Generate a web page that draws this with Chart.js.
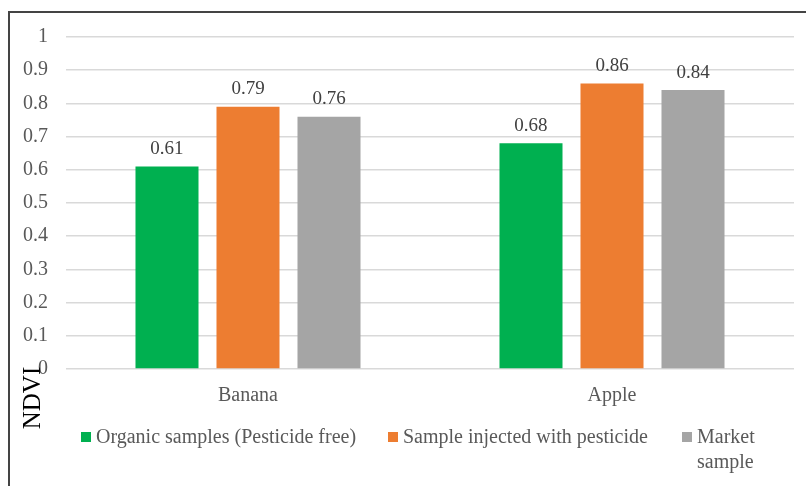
<!DOCTYPE html>
<html>
<head>
<meta charset="utf-8">
<script src="https://cdn.jsdelivr.net/npm/chart.js@4"></script>
<style>
  html, body { margin: 0; padding: 0; background: #fff; }
  #wrap { width: 806px; height: 486px; position: relative; }
</style>
</head>
<body>
<div id="wrap"><canvas id="ndvi-chart" width="806" height="486"></canvas></div>
<script>
const categories = ["Banana", "Apple"];
const seriesNames = [["Organic samples (Pesticide free)"], ["Sample injected with pesticide"], ["Market", "sample"]];
const organicValues = [0.61, 0.68];
const pesticideValues = [0.79, 0.86];
const marketValues = [0.76, 0.84];
const yTicks = [0, 0.1, 0.2, 0.3, 0.4, 0.5, 0.6, 0.7, 0.8, 0.9, 1];
const colors = ["#00B050", "#ED7D31", "#A5A5A5"];

const FONT = "'Liberation Serif', 'Times New Roman', serif";

// frame, value labels, legend and the NDVI title
const extras = {
  id: "extras",
  beforeDraw(chart) {
    const ctx = chart.ctx;
    ctx.save();
    ctx.fillStyle = "#fff";
    ctx.fillRect(0, 0, chart.width, chart.height);
    ctx.strokeStyle = "#444";
    ctx.lineWidth = 2;
    ctx.beginPath();
    ctx.moveTo(9, chart.height + 5);
    ctx.lineTo(9, 12);
    ctx.lineTo(chart.width + 5, 12);
    ctx.stroke();
    ctx.restore();
  },
  afterDatasetsDraw(chart) {
    const ctx = chart.ctx;
    ctx.save();
    ctx.font = "19px " + FONT;
    ctx.fillStyle = "#404040";
    ctx.textAlign = "center";
    ctx.textBaseline = "bottom";
    chart.data.datasets.forEach((ds, i) => {
      chart.getDatasetMeta(i).data.forEach((bar, j) => {
        ctx.fillText(ds.data[j].toFixed(2), bar.x, bar.y - 8);
      });
    });

    // legend
    const starts = [81, 388, 682];
    ctx.font = "20px " + FONT;
    ctx.textAlign = "left";
    ctx.textBaseline = "middle";
    chart.data.datasets.forEach((ds, i) => {
      const x = starts[i];
      ctx.fillStyle = colors[i];
      ctx.fillRect(x, 432, 10, 10);
      ctx.fillStyle = "#595959";
      seriesNames[i].forEach((line, k) => {
        ctx.fillText(line, x + 15, 438 + k * 25);
      });
    });

    // rotated axis title
    ctx.translate(33, 398);
    ctx.rotate(-Math.PI / 2);
    ctx.textAlign = "center";
    ctx.fillStyle = "#000";
    ctx.font = "25px " + FONT;
    ctx.fillText("NDVI", 0, 0);
    ctx.restore();
  }
};

new Chart(document.getElementById("ndvi-chart"), {
  type: "bar",
  data: {
    labels: categories,
    datasets: [
      { label: seriesNames[0].join(" "), data: organicValues, backgroundColor: colors[0] },
      { label: seriesNames[1].join(" "), data: pesticideValues, backgroundColor: colors[1] },
      { label: seriesNames[2].join(" "), data: marketValues, backgroundColor: colors[2] }
    ]
  },
  options: {
    responsive: false,
    animation: false,
    categoryPercentage: 0.6676,
    barPercentage: 0.778,
    layout: { padding: { left: 12, right: 12, top: 37, bottom: 77 } },
    plugins: {
      legend: { display: false },
      tooltip: { enabled: false }
    },
    scales: {
      x: {
        grid: { display: false },
        border: { display: false },
        ticks: { color: "#595959", font: { family: FONT, size: 20 }, padding: 7 },
        afterFit(scale) { scale.height = 40; }
      },
      y: {
        min: 0,
        max: 1,
        afterBuildTicks(scale) { scale.ticks = yTicks.map(v => ({ value: v })); },
        grid: { color: "#d9d9d9", lineWidth: 1.5, drawTicks: false },
        border: { display: false },
        ticks: {
          color: "#595959",
          font: { family: FONT, size: 20 },
          padding: 18,
          callback: v => String(Math.round(v * 10) / 10)
        },
        afterFit(scale) { scale.width = 54; }
      }
    }
  },
  plugins: [extras]
});
</script>
</body>
</html>
